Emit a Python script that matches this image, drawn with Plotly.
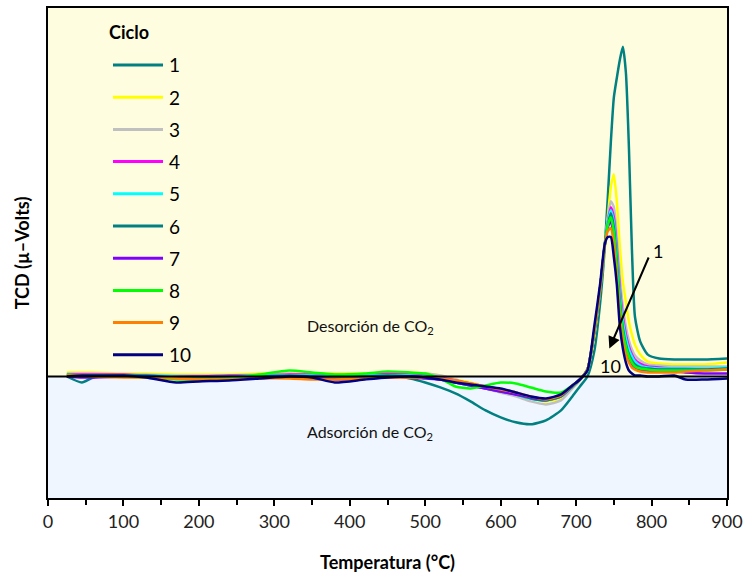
import plotly.graph_objects as go

# Temperature grid (°C)
temperatura = [25, 45, 60, 100, 130, 170, 200, 240, 280, 320, 350, 380, 420, 450, 480, 500,
               520, 540, 560, 580, 600, 620, 640, 660, 680, 695, 705, 715, 724, 732, 738, 742,
               746, 750, 754, 758, 762, 766, 770, 774, 778, 785, 795, 810, 830, 845, 870, 900]

ciclo_1 = [0, -6, -1, 1, 0, -1, 0, 1, 1, 2, 0, -1, 0, 1, -2, -6,
           -11, -17, -25, -34, -41, -46, -48, -44, -34, -20, -10, 0, 25, 75, 130, 180,
           235, 280, 300, 318, 331, 305, 230, 127, 60, 35, 22, 18, 17, 17, 17, 18]
ciclo_2 = [4, 4, 4, 3, 3, 2, 2, 2, 3, 3, 3, 3, 3, 4, 4, 3,
           1, -3, -6, -10, -14, -18, -22, -25, -22, -12, -4, 6, 40, 88, 130, 160,
           190, 203, 175, 130, 95, 75, 55, 42, 32, 22, 15, 13, 12, 12, 12, 14]
ciclo_3 = [3, 3, 3, 2, 2, 1, 1, 1, 2, 3, 2, 2, 2, 3, 3, 3,
           1, -3, -8, -12, -16, -20, -25, -28, -24, -12, -4, 6, 42, 90, 132, 158,
           176, 170, 140, 100, 70, 50, 36, 27, 21, 16, 12, 11, 10, 10, 10, 10]
ciclo_4 = [2, 2, 2, 2, 1, 0, 0, 1, 1, 2, 2, 1, 2, 3, 2, 1,
           -1, -4, -7, -10, -13, -17, -21, -24, -20, -10, -3, 7, 44, 90, 132, 155,
           170, 160, 128, 88, 60, 42, 30, 22, 17, 13, 10, 9, 8, 8, 7, 8]
ciclo_5 = [1, 1, 1, 1, 1, 0, -1, 0, 1, 1, 1, 0, 1, 1, 1, 0,
           -2, -5, -8, -11, -14, -18, -22, -24, -20, -10, -3, 7, 44, 90, 132, 155,
           167, 155, 122, 82, 55, 38, 27, 20, 15, 11, 9, 8, 8, 8, 8, 9]
ciclo_6 = [1, 0, 0, 1, 1, -1, -1, 0, 0, 1, 0, -1, 0, 1, 0, -1,
           -3, -6, -9, -12, -15, -18, -22, -24, -20, -10, -3, 7, 44, 90, 132, 152,
           164, 150, 115, 75, 48, 32, 22, 16, 12, 9, 8, 7, 7, 7, 7, 8]
ciclo_7 = [0, -1, -1, 0, 0, -2, -3, -2, -1, 0, -1, -3, -2, -1, -1, -2,
           -3, -6, -9, -12, -15, -18, -21, -23, -19, -9, -3, 7, 45, 90, 132, 150,
           156, 140, 105, 68, 42, 27, 18, 12, 9, 7, 6, 5, 5, 4, 3, 3]
ciclo_8 = [2, 1, 1, 0, -1, -3, -3, -2, 2, 6, 4, 2, 3, 5, 4, 3,
           -2, -10, -12, -9, -6, -7, -11, -15, -16, -9, -3, 7, 45, 90, 132, 152,
           160, 145, 110, 72, 45, 30, 20, 14, 10, 8, 7, 6, 6, 6, 6, 7]
ciclo_9 = [1, 1, 0, -1, -1, -2, -3, -3, -2, -2, -3, -3, -2, -1, -1, -1,
           -2, -4, -7, -10, -13, -16, -20, -23, -19, -9, -3, 7, 45, 90, 132, 146,
           149, 132, 98, 60, 36, 22, 14, 9, 7, 5, 4, 4, 4, 5, 6, 7]
ciclo_10 = [0, 1, 1, 1, -1, -6, -5, -4, -2, 0, -1, -6, -3, -1, 0, -1,
            -3, -6, -8, -10, -12, -16, -20, -22, -18, -9, -3, 6, 50, 94, 133, 140,
            140, 120, 92, 50, 28, 14, 6, 3, 1, 1, 0, 0, 1, -3, -3, -2]

series = [ciclo_1, ciclo_2, ciclo_3, ciclo_4, ciclo_5, ciclo_6, ciclo_7, ciclo_8, ciclo_9, ciclo_10]
nombres = ["1", "2", "3", "4", "5", "6", "7", "8", "9", "10"]
colores = ["#008080", "#FFFF00", "#C0C0C0", "#FF00FF", "#00FFFF",
           "#008080", "#8000FF", "#00FF00", "#FF8000", "#000080"]

x_ticks = [0, 100, 200, 300, 400, 500, 600, 700, 800, 900]

Y_MIN, Y_MAX = -122, 370
FONT = "Lato"

fig = go.Figure()
for vals, name, col in zip(series, nombres, colores):
    fig.add_trace(go.Scatter(x=temperatura, y=vals, mode="lines", name=name,
                             line=dict(color=col, width=2.5, shape="spline", smoothing=0.6),
                             showlegend=False))

# Background regions
fig.add_shape(type="rect", xref="paper", yref="y", x0=0, x1=1, y0=0, y1=Y_MAX,
              fillcolor="rgb(255,253,224)", line=dict(width=0), layer="below")
fig.add_shape(type="rect", xref="paper", yref="y", x0=0, x1=1, y0=Y_MIN, y1=0,
              fillcolor="rgb(239,246,255)", line=dict(width=0), layer="below")
# zero line
fig.add_shape(type="line", xref="paper", yref="y", x0=0, x1=1, y0=0, y1=0,
              line=dict(color="black", width=2))

# Manual legend
W, H = 743, 573
L, R, T, B = 48, 16, 8, 75
pw, ph = W - L - R, H - T - B
def px(xp): return (xp - L) / pw
def py(yp): return (H - B - yp) / ph

fig.add_annotation(text="<b>Ciclo</b>", xref="paper", yref="paper", x=px(107), y=py(32),
                   xanchor="left", yanchor="middle", showarrow=False,
                   font=dict(family=FONT, size=18, color="black"))
for i, (name, col) in enumerate(zip(nombres, colores)):
    yc = 65 + i * 32.2
    fig.add_shape(type="line", xref="paper", yref="paper", x0=px(113), x1=px(163),
                  y0=py(yc), y1=py(yc), line=dict(color=col, width=3))
    fig.add_annotation(text=name, xref="paper", yref="paper", x=px(167), y=py(yc),
                       xanchor="left", yanchor="middle", showarrow=False,
                       font=dict(family=FONT, size=19, color="black"))

# Region labels
fig.add_annotation(text="Desorción de CO<sub>2</sub>", x=427, y=50, showarrow=False,
                   font=dict(family=FONT, size=16, color="#111"))
fig.add_annotation(text="Adsorción de CO<sub>2</sub>", x=427, y=-56, showarrow=False,
                   font=dict(family=FONT, size=16, color="#111"))

# Arrow 1 -> 10
fig.add_annotation(x=744, y=28, ax=797, ay=121, xref="x", yref="y", axref="x", ayref="y",
                   text="", showarrow=True, arrowhead=2, arrowsize=1.2, arrowwidth=2,
                   arrowcolor="black")
fig.add_annotation(text="1", x=808, y=126, showarrow=False,
                   font=dict(family=FONT, size=18, color="black"))
fig.add_annotation(text="10", x=745, y=11, showarrow=False,
                   font=dict(family=FONT, size=18, color="black"))

fig.update_xaxes(range=[0, 900], tickvals=x_ticks, ticks="outside", ticklen=6, tickwidth=1.5,
                 tickcolor="black", showline=True, linecolor="black", linewidth=2, mirror=True,
                 showgrid=False, zeroline=False, automargin=False,
                 minor=dict(dtick=50, tick0=0, ticks="outside", ticklen=5, tickwidth=1.5,
                            tickcolor="black", showgrid=False),
                 tickfont=dict(family=FONT, size=18, color="#222"),
                 title=dict(text="<b>Temperatura (°C)</b>", standoff=26,
                            font=dict(family=FONT, size=18, color="black")))
fig.update_yaxes(range=[Y_MIN, Y_MAX], showticklabels=False, ticks="", showline=True,
                 linecolor="black", linewidth=2, mirror=True, showgrid=False, zeroline=False,
                 automargin=False,
                 title=dict(text="<b>TCD (µ–Volts)</b>", standoff=12,
                            font=dict(family=FONT, size=18, color="black")))

fig.update_layout(width=W, height=H, margin=dict(l=L, r=R, t=T, b=B),
                  paper_bgcolor="white", plot_bgcolor="white",
                  font=dict(family=FONT))

fig.write_html("out.html")
